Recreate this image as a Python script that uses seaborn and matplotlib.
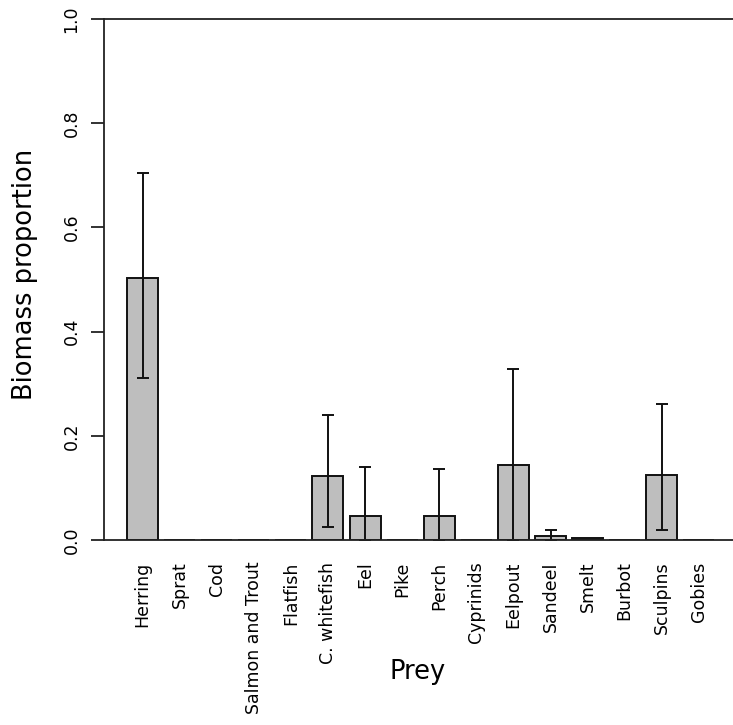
import numpy as np
import matplotlib
matplotlib.use("Agg")
import matplotlib.pyplot as plt
import seaborn as sns

prey = ["Herring", "Sprat", "Cod", "Salmon and Trout", "Flatfish", "C. whitefish",
        "Eel", "Pike", "Perch", "Cyprinids", "Eelpout", "Sandeel", "Smelt",
        "Burbot", "Sculpins", "Gobies"]
proportion = [0.503, 0.0, 0.0, 0.0, 0.0, 0.122, 0.047, 0.0, 0.047, 0.0,
              0.143, 0.007, 0.003, 0.0, 0.124, 0.0]
lower = [0.311, np.nan, np.nan, np.nan, np.nan, 0.024, 0.0, np.nan, 0.0, np.nan,
         0.0, 0.0, np.nan, np.nan, 0.019, np.nan]
upper = [0.704, np.nan, np.nan, np.nan, np.nan, 0.239, 0.140, np.nan, 0.136, np.nan,
         0.329, 0.019, np.nan, np.nan, 0.261, np.nan]
yticks = [0.0, 0.2, 0.4, 0.6, 0.8, 1.0]

sns.set_style("white")
plt.rcParams["font.family"] = ["DejaVu Sans"]
plt.rcParams["text.color"] = "black"
plt.rcParams["axes.labelcolor"] = "black"
plt.rcParams["xtick.color"] = "black"
plt.rcParams["ytick.color"] = "black"

fig = plt.figure(figsize=(7.33, 7.25), dpi=100)
ax = fig.add_axes([104 / 733, 185 / 725, 629 / 733, 521 / 725])

sns.barplot(x=prey, y=proportion, order=prey, color="#BEBEBE", saturation=1,
            edgecolor="#111111", linewidth=1.4, width=0.835, errorbar=None, ax=ax)

# error bars from the lower / upper bounds
pos = np.arange(len(prey))
vals = np.array(proportion)
lo = np.array(lower)
hi = np.array(upper)
mask = ~np.isnan(lo)
ax.errorbar(pos[mask], vals[mask], yerr=[vals[mask] - lo[mask], hi[mask] - vals[mask]],
            fmt="none", ecolor="#111111", elinewidth=1.4, capsize=4.5, capthick=1.4)

ax.set_ylim(0, 1)
ax.set_xlim(-1.038, 15.92)
ax.set_yticks(yticks)
ax.set_yticklabels([f"{t:.1f}" for t in yticks], rotation=90, va="center", fontsize=12.5)
ax.tick_params(axis="y", length=9.4, width=1.3, color="#222222", pad=7.5, left=True)
ax.tick_params(axis="x", length=0, pad=15.5, labelsize=12.5, labelrotation=90)

for side in ["left", "top", "bottom"]:
    ax.spines[side].set_color("#222222")
    ax.spines[side].set_linewidth(1.3)
ax.spines["right"].set_visible(False)

ax.set_ylabel("Biomass proportion", fontsize=18.5)
ax.yaxis.set_label_coords(-0.126, 0.51)
ax.yaxis.label.set_va("center")
ax.set_xlabel("Prey", fontsize=18.5)
ax.xaxis.set_label_coords(0.499, -0.253)
ax.xaxis.label.set_va("center")

fig.savefig("out.png", dpi=100)
